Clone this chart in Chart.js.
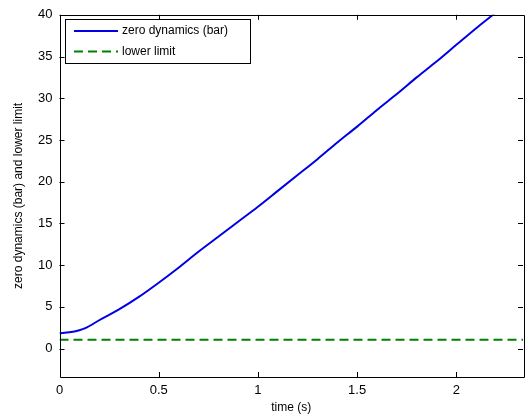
<!DOCTYPE html>
<html>
<head>
<meta charset="utf-8">
<script src="https://cdn.jsdelivr.net/npm/chart.js@4.4.0/dist/chart.umd.min.js"></script>
<style>
  html, body { margin: 0; padding: 0; background: #fff; }
  #wrap { width: 526px; height: 419px; }
</style>
</head>
<body>
<div id="wrap"><canvas id="zd-chart" width="526" height="419"></canvas></div>
<script>
// time axis (s)
let time = [0, 0.05, 0.1, 0.13, 0.2, 0.3, 0.4, 0.5, 0.6, 0.7, 0.8, 0.9, 1.0, 1.1, 1.2,
            1.3, 1.4, 1.5, 1.6, 1.7, 1.8, 1.9, 2.0, 2.1, 2.2, 2.3, 2.336];
// zero dynamics (bar)
let zeroDyn = [1.85, 1.95, 2.2, 2.45, 3.4, 4.7, 6.2, 7.9, 9.7, 11.6, 13.4, 15.2, 17.0, 18.9, 20.8,
               22.7, 24.7, 26.6, 28.6, 30.5, 32.5, 34.4, 36.4, 38.4, 40.3, 42.3, 43.0];
let lowerLimit = 1.05;
let xTicks = [0, 0.5, 1, 1.5, 2];
let yTicks = [0, 5, 10, 15, 20, 25, 30, 35, 40];

const FONT = 'Liberation Sans, Arial, sans-serif';
Chart.defaults.font.family = FONT;
Chart.defaults.color = '#000';

// matlab style box + inward ticks on all four sides
const boxPlugin = {
    id: 'box',
    afterDraw(chart) {
        const ctx = chart.ctx, a = chart.chartArea;
        const xs = chart.scales.x, ys = chart.scales.y;
        ctx.save();
        ctx.strokeStyle = '#000';
        ctx.lineWidth = 1;
        ctx.beginPath();
        ctx.rect(Math.round(a.left) + 0.5, Math.round(a.top) + 0.5,
                 Math.round(a.right - a.left), Math.round(a.bottom - a.top));
        const len = 5;
        xTicks.forEach(v => {
            const px = Math.round(xs.getPixelForValue(v)) + 0.5;
            ctx.moveTo(px, a.bottom); ctx.lineTo(px, a.bottom - len);
            ctx.moveTo(px, a.top); ctx.lineTo(px, a.top + len);
        });
        yTicks.forEach(v => {
            const py = Math.round(ys.getPixelForValue(v)) + 0.5;
            ctx.moveTo(a.left, py); ctx.lineTo(a.left + len, py);
            ctx.moveTo(a.right, py); ctx.lineTo(a.right - len, py);
        });
        ctx.stroke();

        // legend box
        const bx = 65.5, by = 19.5, bw = 185, bh = 44;
        ctx.fillStyle = '#fff';
        ctx.fillRect(bx, by, bw, bh);
        ctx.strokeRect(bx, by, bw, bh);
        ctx.font = '12px ' + FONT;
        ctx.textBaseline = 'middle';
        chart.data.datasets.forEach((ds, i) => {
            const y = 31 + i * 20.5;
            ctx.beginPath();
            ctx.strokeStyle = ds.borderColor;
            ctx.lineWidth = ds.borderWidth;
            ctx.setLineDash(ds.borderDash || []);
            ctx.moveTo(74, y); ctx.lineTo(118, y);
            ctx.stroke();
            ctx.setLineDash([]);
            ctx.fillStyle = '#000';
            ctx.fillText(ds.label, 122, y);
        });
        ctx.restore();
    }
};

let ctx = document.getElementById('zd-chart').getContext('2d');

new Chart(ctx, {
    type: 'line',
    data: {
        datasets: [{
            label: 'zero dynamics (bar)',
            data: time.map((t, i) => ({x: t, y: zeroDyn[i]})),
            borderColor: '#0000e6',
            borderWidth: 2,
            pointRadius: 0,
            cubicInterpolationMode: 'monotone'
        }, {
            label: 'lower limit',
            data: [{x: 0, y: lowerLimit}, {x: time[time.length - 1], y: lowerLimit}],
            borderColor: '#008000',
            borderWidth: 2,
            borderDash: [9, 5],
            pointRadius: 0
        }]
    },
    options: {
        responsive: false,
        animation: false,
        events: [],
        layout: { padding: { top: 12, right: 3, left: 0, bottom: 0 } },
        plugins: { legend: { display: false }, tooltip: { enabled: false } },
        scales: {
            x: {
                type: 'linear',
                min: 0, max: 2.336,
                afterBuildTicks: s => { s.ticks = xTicks.map(v => ({value: v})); },
                afterFit: s => { s.height = 42; },
                grid: { display: false, drawTicks: false },
                border: { display: false },
                ticks: { font: { size: 13 }, padding: 6, maxRotation: 0, callback: v => String(v) },
                title: { display: true, text: 'time (s)', font: { size: 12 }, padding: { top: 0 } }
            },
            y: {
                min: -3.4, max: 40,
                afterBuildTicks: s => { s.ticks = yTicks.map(v => ({value: v})); },
                afterFit: s => { s.width = 59.5; },
                grid: { display: false, drawTicks: false },
                border: { display: false },
                ticks: { font: { size: 13 }, padding: 7, callback: v => String(v) },
                title: { display: true, text: 'zero dynamics (bar) and lower limit', font: { size: 12 }, padding: { top: 11, bottom: 0 } }
            }
        }
    },
    plugins: [boxPlugin]
});
</script>
</body>
</html>
